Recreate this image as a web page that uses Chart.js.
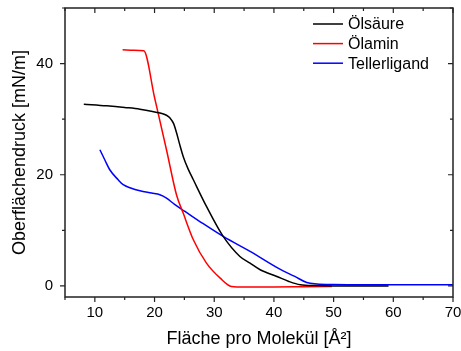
<!DOCTYPE html>
<html>
<head>
<meta charset="utf-8">
<script src="https://cdn.jsdelivr.net/npm/chart.js@4"></script>
<style>
  html, body { margin: 0; padding: 0; background: #fff; }
  canvas { display: block; }
</style>
</head>
<body>
<canvas id="chart" width="461" height="351"></canvas>
<script>
// isotherm data: area per molecule [Å²] vs surface pressure [mN/m]
const oelsaeureX = [8.15, 12, 15, 17.55, 20.9, 22.0, 22.6, 23.2, 23.7, 24.2, 24.8, 25.6, 26.5, 28.7, 31.5, 34.3, 36.0, 37.7, 40.5, 42.5, 44.4, 47, 50, 55, 59.2];
const oelsaeureY = [32.7, 32.4, 32.1, 31.8, 31.1, 30.7, 30.2, 29.2, 27.5, 25.5, 23.3, 21.1, 19.1, 14.3, 8.9, 5.3, 4.1, 2.9, 1.7, 0.8, 0.2, 0.05, 0, 0, 0];

const oelaminX = [14.65, 16.5, 18.2, 20.0, 22.0, 23.7, 24.8, 26.5, 28.7, 31.0, 32.9, 35, 40, 45, 49.7];
const oelaminY = [42.5, 42.4, 42.3, 33.9, 24.5, 16.3, 13.1, 8.3, 4.1, 1.4, -0.1, -0.2, -0.2, -0.15, -0.1];

const tellerX = [10.85, 11.7, 12.5, 13.9, 14.75, 16, 17.55, 19.5, 20.9, 22.0, 23.3, 25.1, 28, 31.5, 36.0, 41.0, 43.5, 45.5, 47.2, 50, 55, 60, 65, 70];
const tellerY = [24.5, 22.6, 20.9, 19.1, 18.2, 17.6, 17.1, 16.7, 16.4, 15.8, 14.7, 13.4, 11.3, 8.9, 6.2, 3.0, 1.7, 0.6, 0.36, 0.25, 0.2, 0.2, 0.2, 0.2];

const seriesNames = ['Ölsäure', 'Ölamin', 'Tellerligand'];
const seriesColors = ['#000000', '#ff0000', '#0000ff'];

const xTitle = 'Fläche pro Molekül [Å²]';
const yTitle = 'Oberflächendruck [mN/m]';

const FONT = "'Liberation Sans', Arial, sans-serif";

function toPoints(xs, ys) {
  return xs.map((x, i) => ({ x: x, y: ys[i] }));
}

// frame with inward/outward ticks like the Origin plot
const framePlugin = {
  id: 'frame',
  afterDraw(chart) {
    const ctx = chart.ctx;
    const a = chart.chartArea;
    const xs = chart.scales.x;
    const ys = chart.scales.y;
    ctx.save();
    ctx.strokeStyle = '#222';
    ctx.lineWidth = 1.5;
    ctx.strokeRect(a.left, a.top, a.right - a.left, a.bottom - a.top);
    ctx.lineWidth = 1.2;
    ctx.beginPath();
    xs.ticks.forEach(t => {
      const p = xs.getPixelForValue(t.value);
      const len = t.value % 10 === 0 ? 5 : 3;
      ctx.moveTo(p, a.bottom);
      ctx.lineTo(p, a.bottom + len);
      ctx.moveTo(p, a.top);
      ctx.lineTo(p, a.top + len);
    });
    ys.ticks.forEach(t => {
      if (t.value % 10 !== 0) return;
      const p = ys.getPixelForValue(t.value);
      const len = t.value % 20 === 0 ? 5 : 3;
      ctx.moveTo(a.left - len, p);
      ctx.lineTo(a.left, p);
      ctx.moveTo(a.right - len, p);
      ctx.lineTo(a.right, p);
    });
    ctx.stroke();

    // legend inside the plot, top right
    ctx.font = '16px ' + FONT;
    ctx.textBaseline = 'middle';
    ctx.textAlign = 'left';
    chart.data.datasets.forEach((ds, i) => {
      const y = 24 + i * 19.6;
      ctx.strokeStyle = ds.borderColor;
      ctx.lineWidth = 1.5;
      ctx.beginPath();
      ctx.moveTo(313, y);
      ctx.lineTo(343, y);
      ctx.stroke();
      ctx.fillStyle = '#000';
      ctx.fillText(ds.label, 348, y + 1);
    });
    ctx.restore();
  }
};

const chartElement = document.querySelector('#chart').getContext('2d');

new Chart(chartElement, {
  type: 'line',
  data: {
    datasets: [
      {
        label: seriesNames[0],
        data: toPoints(oelsaeureX, oelsaeureY),
        borderColor: seriesColors[0],
      },
      {
        label: seriesNames[1],
        data: toPoints(oelaminX, oelaminY),
        borderColor: seriesColors[1],
      },
      {
        label: seriesNames[2],
        data: toPoints(tellerX, tellerY),
        borderColor: seriesColors[2],
      },
    ],
  },
  options: {
    responsive: false,
    animation: false,
    devicePixelRatio: 1,
    layout: { padding: { top: 8, right: 8, left: 0, bottom: 0 } },
    elements: {
      point: { radius: 0 },
      line: { borderWidth: 1.5, cubicInterpolationMode: 'monotone', fill: false },
    },
    plugins: {
      legend: { display: false },
      tooltip: { enabled: false },
    },
    scales: {
      x: {
        type: 'linear',
        min: 5,
        max: 70,
        grid: { display: false, drawTicks: false },
        border: { display: false },
        ticks: {
          stepSize: 5,
          autoSkip: false,
          maxRotation: 0,
          padding: 7,
          color: '#000',
          font: { family: FONT, size: 15 },
          callback: v => (v % 10 === 0 ? String(v) : ''),
        },
        title: {
          display: true,
          text: xTitle,
          color: '#000',
          font: { family: FONT, size: 18 },
          padding: { top: 0, bottom: 1 },
        },
        afterFit: s => {
          s.height = 54;
          s.paddingLeft = 0;
          s.paddingRight = 0;
        },
      },
      y: {
        type: 'linear',
        min: -2,
        max: 50,
        grid: { display: false, drawTicks: false },
        border: { display: false },
        ticks: {
          stepSize: 10,
          includeBounds: false,
          autoSkip: false,
          padding: 12,
          color: '#000',
          font: { family: FONT, size: 15 },
          callback: v => (v % 20 === 0 ? String(v) : ''),
        },
        title: {
          display: true,
          text: yTitle,
          color: '#000',
          font: { family: FONT, size: 18 },
          padding: { top: 9, bottom: 0 },
        },
        afterFit: s => {
          s.width = 65;
          s.paddingTop = 0;
          s.paddingBottom = 0;
        },
      },
    },
  },
  plugins: [framePlugin],
});
</script>
</body>
</html>
